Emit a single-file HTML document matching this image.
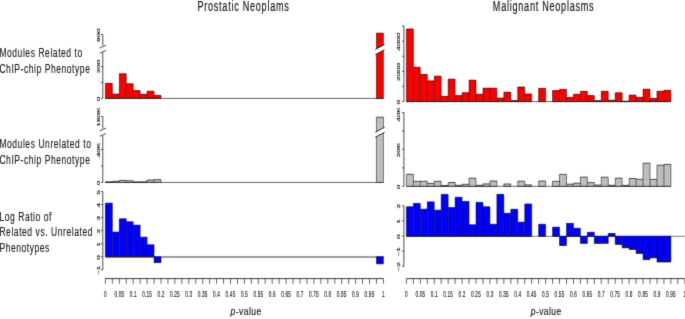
<!DOCTYPE html>
<html><head><meta charset="utf-8"><style>
html,body{margin:0;padding:0;background:#fff;}
body{width:685px;height:319px;overflow:hidden;position:relative;font-family:"Liberation Sans",sans-serif;}
svg{position:absolute;left:0;top:0;}
svg text{font-family:"Liberation Sans",sans-serif;}
</style></head><body>
<svg width="685" height="319" viewBox="0 0 685 319">
<defs><filter id="soft" x="0" y="0" width="1" height="1" color-interpolation-filters="sRGB"><feConvolveMatrix order="3" kernelMatrix="0.0112 0.0834 0.0112 0.0834 0.6194 0.0834 0.0112 0.0834 0.0112" edgeMode="duplicate" preserveAlpha="false"/></filter></defs>
<rect width="685" height="319" fill="#fff"/>
<g filter="url(#soft)">
<rect width="685" height="319" fill="#fff"/>
<g fill="#1a1a1a" font-size="14.7" stroke="#1a1a1a" stroke-width="0.2" letter-spacing="1.18">
<text transform="translate(243.5,10.8) scale(0.62,1)" text-anchor="middle">Prostatic Neoplams</text>
<text transform="translate(543.6,10.8) scale(0.62,1)" text-anchor="middle">Malignant Neoplasms</text>
</g>
<g fill="#1a1a1a" font-size="13.5" stroke="#1a1a1a" stroke-width="0.15" letter-spacing="0.9">
<text transform="translate(-0.6,57.1) scale(0.63,1)">Modules Related to</text>
<text transform="translate(-0.6,73.0) scale(0.63,1)">ChIP-chip Phenotype</text>
<text transform="translate(-0.6,147.5) scale(0.63,1)">Modules Unrelated to</text>
<text transform="translate(-0.6,163.8) scale(0.63,1)">ChIP-chip Phenotype</text>
<text transform="translate(-0.6,220.7) scale(0.63,1)">Log Ratio of</text>
<text transform="translate(-0.6,236.3) scale(0.63,1)">Related vs. Unrelated</text>
<text transform="translate(-0.6,251.7) scale(0.63,1)">Phenotypes</text>
</g>
<g fill="#1a1a1a" font-size="11.5" stroke="#1a1a1a" stroke-width="0.2" letter-spacing="0.6">
<text transform="translate(230.6,315.4) scale(0.74,1)"><tspan font-style="italic">p</tspan>-value</text>
<text transform="translate(530.7,315.4) scale(0.74,1)"><tspan font-style="italic">p</tspan>-value</text>
</g>
<line x1="105.40" y1="98.40" x2="383.40" y2="98.40" stroke="#555" stroke-width="0.9"/>
<rect x="105.40" y="83.40" width="6.95" height="15.00" fill="#fa0000"/>
<rect x="112.35" y="94.10" width="6.95" height="4.30" fill="#fa0000"/>
<rect x="119.30" y="73.80" width="6.95" height="24.60" fill="#fa0000"/>
<rect x="126.25" y="83.80" width="6.95" height="14.60" fill="#fa0000"/>
<rect x="133.20" y="90.60" width="6.95" height="7.80" fill="#fa0000"/>
<rect x="140.15" y="94.30" width="6.95" height="4.10" fill="#fa0000"/>
<rect x="147.10" y="91.20" width="6.95" height="7.20" fill="#fa0000"/>
<rect x="154.05" y="95.40" width="6.95" height="3.00" fill="#fa0000"/>
<rect x="376.45" y="33.20" width="6.95" height="65.20" fill="#fa0000"/>
<path d="M105.40 83.40H112.35M105.40 98.40H112.35M112.35 94.10H119.30M112.35 98.40H119.30M119.30 73.80H126.25M119.30 98.40H126.25M126.25 83.80H133.20M126.25 98.40H133.20M133.20 90.60H140.15M133.20 98.40H140.15M140.15 94.30H147.10M140.15 98.40H147.10M147.10 91.20H154.05M147.10 98.40H154.05M154.05 95.40H161.00M154.05 98.40H161.00M376.45 33.20H383.40M376.45 98.40H383.40" stroke="#000" stroke-width="0.65" fill="none"/>
<path d="M105.40 83.40V98.40M112.35 83.40V98.40M119.30 73.80V98.40M126.25 73.80V98.40M133.20 83.80V98.40M140.15 90.60V98.40M147.10 91.20V98.40M154.05 91.20V98.40M161.00 95.40V98.40M376.45 33.20V98.40M383.40 33.20V98.40" stroke="#000" stroke-width="0.5" fill="none"/>
<polygon points="375.25,49.40 384.60,44.40 384.60,49.70 375.25,54.70" fill="#fff"/>
<line x1="375.25" y1="49.40" x2="384.60" y2="44.40" stroke="#000" stroke-width="0.8"/>
<line x1="375.25" y1="54.70" x2="384.60" y2="49.70" stroke="#000" stroke-width="0.8"/>
<line x1="102.80" y1="34.40" x2="102.80" y2="45.60" stroke="#222" stroke-width="0.8"/>
<line x1="102.80" y1="52.00" x2="102.80" y2="98.40" stroke="#222" stroke-width="0.8"/>
<line x1="101.00" y1="34.40" x2="102.80" y2="34.40" stroke="#222" stroke-width="0.8"/>
<line x1="101.00" y1="66.60" x2="102.80" y2="66.60" stroke="#222" stroke-width="0.8"/>
<line x1="101.00" y1="82.50" x2="102.80" y2="82.50" stroke="#222" stroke-width="0.8"/>
<line x1="101.00" y1="98.40" x2="102.80" y2="98.40" stroke="#222" stroke-width="0.8"/>
<text transform="translate(98.70,35.20) scale(0.42,1) rotate(-90)" font-size="8.2" text-anchor="middle" dominant-baseline="central" fill="#1a1a1a" stroke="#1a1a1a" stroke-width="0.32">900</text>
<text transform="translate(98.70,66.50) scale(0.42,1) rotate(-90)" font-size="8.2" text-anchor="middle" dominant-baseline="central" fill="#1a1a1a" stroke="#1a1a1a" stroke-width="0.32">200</text>
<text transform="translate(98.70,99.00) scale(0.42,1) rotate(-90)" font-size="8.2" text-anchor="middle" dominant-baseline="central" fill="#1a1a1a" stroke="#1a1a1a" stroke-width="0.32">0</text>
<line x1="99.70" y1="48.00" x2="106.10" y2="45.20" stroke="#222" stroke-width="0.8"/>
<line x1="99.70" y1="53.20" x2="106.10" y2="50.40" stroke="#222" stroke-width="0.8"/>
<line x1="105.40" y1="182.40" x2="383.40" y2="182.40" stroke="#555" stroke-width="0.9"/>
<rect x="105.40" y="181.90" width="6.95" height="0.50" fill="#bebebe"/>
<rect x="112.35" y="181.30" width="6.95" height="1.10" fill="#bebebe"/>
<rect x="119.30" y="180.30" width="6.95" height="2.10" fill="#bebebe"/>
<rect x="126.25" y="180.80" width="6.95" height="1.60" fill="#bebebe"/>
<rect x="133.20" y="182.00" width="6.95" height="0.40" fill="#bebebe"/>
<rect x="140.15" y="181.90" width="6.95" height="0.50" fill="#bebebe"/>
<rect x="147.10" y="180.00" width="6.95" height="2.40" fill="#bebebe"/>
<rect x="154.05" y="179.60" width="6.95" height="2.80" fill="#bebebe"/>
<rect x="376.45" y="117.20" width="6.95" height="65.20" fill="#bebebe"/>
<path d="M105.40 181.90H112.35M105.40 182.40H112.35M112.35 181.30H119.30M112.35 182.40H119.30M119.30 180.30H126.25M119.30 182.40H126.25M126.25 180.80H133.20M126.25 182.40H133.20M133.20 182.00H140.15M133.20 182.40H140.15M140.15 181.90H147.10M140.15 182.40H147.10M147.10 180.00H154.05M147.10 182.40H154.05M154.05 179.60H161.00M154.05 182.40H161.00M376.45 117.20H383.40M376.45 182.40H383.40" stroke="#000" stroke-width="0.65" fill="none"/>
<path d="M105.40 181.90V182.40M112.35 181.30V182.40M119.30 180.30V182.40M126.25 180.30V182.40M133.20 180.80V182.40M140.15 181.90V182.40M147.10 180.00V182.40M154.05 179.60V182.40M161.00 179.60V182.40M376.45 117.20V182.40M383.40 117.20V182.40" stroke="#000" stroke-width="0.5" fill="none"/>
<polygon points="375.25,132.20 384.60,127.20 384.60,132.30 375.25,137.30" fill="#fff"/>
<line x1="375.25" y1="132.20" x2="384.60" y2="127.20" stroke="#000" stroke-width="0.8"/>
<line x1="375.25" y1="137.30" x2="384.60" y2="132.30" stroke="#000" stroke-width="0.8"/>
<line x1="102.80" y1="116.50" x2="102.80" y2="128.60" stroke="#222" stroke-width="0.8"/>
<line x1="102.80" y1="135.60" x2="102.80" y2="182.40" stroke="#222" stroke-width="0.8"/>
<line x1="101.00" y1="116.50" x2="102.80" y2="116.50" stroke="#222" stroke-width="0.8"/>
<line x1="101.00" y1="149.50" x2="102.80" y2="149.50" stroke="#222" stroke-width="0.8"/>
<line x1="101.00" y1="166.00" x2="102.80" y2="166.00" stroke="#222" stroke-width="0.8"/>
<line x1="101.00" y1="182.40" x2="102.80" y2="182.40" stroke="#222" stroke-width="0.8"/>
<text transform="translate(98.70,117.10) scale(0.42,1) rotate(-90)" font-size="8.2" text-anchor="middle" dominant-baseline="central" fill="#1a1a1a" stroke="#1a1a1a" stroke-width="0.32">180K</text>
<text transform="translate(98.70,150.10) scale(0.42,1) rotate(-90)" font-size="8.2" text-anchor="middle" dominant-baseline="central" fill="#1a1a1a" stroke="#1a1a1a" stroke-width="0.32">40K</text>
<text transform="translate(98.70,183.00) scale(0.42,1) rotate(-90)" font-size="8.2" text-anchor="middle" dominant-baseline="central" fill="#1a1a1a" stroke="#1a1a1a" stroke-width="0.32">0</text>
<line x1="99.70" y1="130.90" x2="106.10" y2="128.10" stroke="#222" stroke-width="0.8"/>
<line x1="99.70" y1="136.30" x2="106.10" y2="133.50" stroke="#222" stroke-width="0.8"/>
<line x1="105.40" y1="257.00" x2="383.40" y2="257.00" stroke="#3a3a3a" stroke-width="1.0"/>
<rect x="105.40" y="203.20" width="6.95" height="53.60" fill="#0000fa"/>
<rect x="112.35" y="232.10" width="6.95" height="24.70" fill="#0000fa"/>
<rect x="119.30" y="218.80" width="6.95" height="38.00" fill="#0000fa"/>
<rect x="126.25" y="221.80" width="6.95" height="35.00" fill="#0000fa"/>
<rect x="133.20" y="225.20" width="6.95" height="31.60" fill="#0000fa"/>
<rect x="140.15" y="237.20" width="6.95" height="19.60" fill="#0000fa"/>
<rect x="147.10" y="244.80" width="6.95" height="12.00" fill="#0000fa"/>
<rect x="154.05" y="256.80" width="6.95" height="5.80" fill="#0000fa"/>
<rect x="376.45" y="256.80" width="6.95" height="7.00" fill="#0000fa"/>
<path d="M105.40 203.20H112.35M105.40 256.80H112.35M112.35 232.10H119.30M112.35 256.80H119.30M119.30 218.80H126.25M119.30 256.80H126.25M126.25 221.80H133.20M126.25 256.80H133.20M133.20 225.20H140.15M133.20 256.80H140.15M140.15 237.20H147.10M140.15 256.80H147.10M147.10 244.80H154.05M147.10 256.80H154.05M154.05 256.80H161.00M154.05 262.60H161.00M376.45 256.80H383.40M376.45 263.80H383.40" stroke="#000" stroke-width="0.65" fill="none"/>
<path d="M105.40 203.20V256.80M112.35 203.20V256.80M119.30 218.80V256.80M126.25 218.80V256.80M133.20 221.80V256.80M140.15 225.20V256.80M147.10 237.20V256.80M154.05 244.80V262.60M161.00 256.80V262.60M376.45 256.80V263.80M383.40 256.80V263.80" stroke="#000" stroke-width="0.5" fill="none"/>
<line x1="102.80" y1="191.55" x2="102.80" y2="269.85" stroke="#222" stroke-width="0.8"/>
<line x1="101.00" y1="191.55" x2="102.80" y2="191.55" stroke="#222" stroke-width="0.8"/>
<line x1="101.00" y1="204.60" x2="102.80" y2="204.60" stroke="#222" stroke-width="0.8"/>
<line x1="101.00" y1="217.65" x2="102.80" y2="217.65" stroke="#222" stroke-width="0.8"/>
<line x1="101.00" y1="230.70" x2="102.80" y2="230.70" stroke="#222" stroke-width="0.8"/>
<line x1="101.00" y1="243.75" x2="102.80" y2="243.75" stroke="#222" stroke-width="0.8"/>
<line x1="101.00" y1="256.80" x2="102.80" y2="256.80" stroke="#222" stroke-width="0.8"/>
<line x1="101.00" y1="269.85" x2="102.80" y2="269.85" stroke="#222" stroke-width="0.8"/>
<text transform="translate(98.70,192.15) scale(0.42,1) rotate(-90)" font-size="8.2" text-anchor="middle" dominant-baseline="central" fill="#1a1a1a" stroke="#1a1a1a" stroke-width="0.32">5</text>
<text transform="translate(98.70,205.20) scale(0.42,1) rotate(-90)" font-size="8.2" text-anchor="middle" dominant-baseline="central" fill="#1a1a1a" stroke="#1a1a1a" stroke-width="0.32">4</text>
<text transform="translate(98.70,218.25) scale(0.42,1) rotate(-90)" font-size="8.2" text-anchor="middle" dominant-baseline="central" fill="#1a1a1a" stroke="#1a1a1a" stroke-width="0.32">3</text>
<text transform="translate(98.70,231.30) scale(0.42,1) rotate(-90)" font-size="8.2" text-anchor="middle" dominant-baseline="central" fill="#1a1a1a" stroke="#1a1a1a" stroke-width="0.32">2</text>
<text transform="translate(98.70,244.35) scale(0.42,1) rotate(-90)" font-size="8.2" text-anchor="middle" dominant-baseline="central" fill="#1a1a1a" stroke="#1a1a1a" stroke-width="0.32">1</text>
<text transform="translate(98.70,257.40) scale(0.42,1) rotate(-90)" font-size="8.2" text-anchor="middle" dominant-baseline="central" fill="#1a1a1a" stroke="#1a1a1a" stroke-width="0.32">0</text>
<text transform="translate(98.70,270.45) scale(0.42,1) rotate(-90)" font-size="8.2" text-anchor="middle" dominant-baseline="central" fill="#1a1a1a" stroke="#1a1a1a" stroke-width="0.32">−1</text>
<line x1="406.40" y1="101.60" x2="670.88" y2="101.60" stroke="#555" stroke-width="0.9"/>
<rect x="406.40" y="29.00" width="6.96" height="72.60" fill="#fa0000"/>
<rect x="413.36" y="67.30" width="6.96" height="34.30" fill="#fa0000"/>
<rect x="420.32" y="74.40" width="6.96" height="27.20" fill="#fa0000"/>
<rect x="427.28" y="80.90" width="6.96" height="20.70" fill="#fa0000"/>
<rect x="434.24" y="76.20" width="6.96" height="25.40" fill="#fa0000"/>
<rect x="441.20" y="96.40" width="6.96" height="5.20" fill="#fa0000"/>
<rect x="448.16" y="79.20" width="6.96" height="22.40" fill="#fa0000"/>
<rect x="455.12" y="95.60" width="6.96" height="6.00" fill="#fa0000"/>
<rect x="462.08" y="92.70" width="6.96" height="8.90" fill="#fa0000"/>
<rect x="469.04" y="80.20" width="6.96" height="21.40" fill="#fa0000"/>
<rect x="476.00" y="94.30" width="6.96" height="7.30" fill="#fa0000"/>
<rect x="482.96" y="88.20" width="6.96" height="13.40" fill="#fa0000"/>
<rect x="489.92" y="88.20" width="6.96" height="13.40" fill="#fa0000"/>
<rect x="496.88" y="98.10" width="6.96" height="3.50" fill="#fa0000"/>
<rect x="503.84" y="92.20" width="6.96" height="9.40" fill="#fa0000"/>
<rect x="510.80" y="100.50" width="6.96" height="1.10" fill="#fa0000"/>
<rect x="517.76" y="87.00" width="6.96" height="14.60" fill="#fa0000"/>
<rect x="524.72" y="94.00" width="6.96" height="7.60" fill="#fa0000"/>
<rect x="538.64" y="88.40" width="6.96" height="13.20" fill="#fa0000"/>
<rect x="552.56" y="90.60" width="6.96" height="11.00" fill="#fa0000"/>
<rect x="559.52" y="89.40" width="6.96" height="12.20" fill="#fa0000"/>
<rect x="566.48" y="97.40" width="6.96" height="4.20" fill="#fa0000"/>
<rect x="573.44" y="94.30" width="6.96" height="7.30" fill="#fa0000"/>
<rect x="580.40" y="91.30" width="6.96" height="10.30" fill="#fa0000"/>
<rect x="587.36" y="95.60" width="6.96" height="6.00" fill="#fa0000"/>
<rect x="594.32" y="100.60" width="6.96" height="1.00" fill="#fa0000"/>
<rect x="601.28" y="91.30" width="6.96" height="10.30" fill="#fa0000"/>
<rect x="608.24" y="100.20" width="6.96" height="1.40" fill="#fa0000"/>
<rect x="615.20" y="92.80" width="6.96" height="8.80" fill="#fa0000"/>
<rect x="622.16" y="101.20" width="6.96" height="0.40" fill="#fa0000"/>
<rect x="629.12" y="95.10" width="6.96" height="6.50" fill="#fa0000"/>
<rect x="636.08" y="97.40" width="6.96" height="4.20" fill="#fa0000"/>
<rect x="643.04" y="89.20" width="6.96" height="12.40" fill="#fa0000"/>
<rect x="650.00" y="98.40" width="6.96" height="3.20" fill="#fa0000"/>
<rect x="656.96" y="91.30" width="6.96" height="10.30" fill="#fa0000"/>
<rect x="663.92" y="90.30" width="6.96" height="11.30" fill="#fa0000"/>
<path d="M406.40 29.00H413.36M406.40 101.60H413.36M413.36 67.30H420.32M413.36 101.60H420.32M420.32 74.40H427.28M420.32 101.60H427.28M427.28 80.90H434.24M427.28 101.60H434.24M434.24 76.20H441.20M434.24 101.60H441.20M441.20 96.40H448.16M441.20 101.60H448.16M448.16 79.20H455.12M448.16 101.60H455.12M455.12 95.60H462.08M455.12 101.60H462.08M462.08 92.70H469.04M462.08 101.60H469.04M469.04 80.20H476.00M469.04 101.60H476.00M476.00 94.30H482.96M476.00 101.60H482.96M482.96 88.20H489.92M482.96 101.60H489.92M489.92 88.20H496.88M489.92 101.60H496.88M496.88 98.10H503.84M496.88 101.60H503.84M503.84 92.20H510.80M503.84 101.60H510.80M510.80 100.50H517.76M510.80 101.60H517.76M517.76 87.00H524.72M517.76 101.60H524.72M524.72 94.00H531.68M524.72 101.60H531.68M538.64 88.40H545.60M538.64 101.60H545.60M552.56 90.60H559.52M552.56 101.60H559.52M559.52 89.40H566.48M559.52 101.60H566.48M566.48 97.40H573.44M566.48 101.60H573.44M573.44 94.30H580.40M573.44 101.60H580.40M580.40 91.30H587.36M580.40 101.60H587.36M587.36 95.60H594.32M587.36 101.60H594.32M594.32 100.60H601.28M594.32 101.60H601.28M601.28 91.30H608.24M601.28 101.60H608.24M608.24 100.20H615.20M608.24 101.60H615.20M615.20 92.80H622.16M615.20 101.60H622.16M622.16 101.20H629.12M622.16 101.60H629.12M629.12 95.10H636.08M629.12 101.60H636.08M636.08 97.40H643.04M636.08 101.60H643.04M643.04 89.20H650.00M643.04 101.60H650.00M650.00 98.40H656.96M650.00 101.60H656.96M656.96 91.30H663.92M656.96 101.60H663.92M663.92 90.30H670.88M663.92 101.60H670.88" stroke="#000" stroke-width="0.65" fill="none"/>
<path d="M406.40 29.00V101.60M413.36 29.00V101.60M420.32 67.30V101.60M427.28 74.40V101.60M434.24 76.20V101.60M441.20 76.20V101.60M448.16 79.20V101.60M455.12 79.20V101.60M462.08 92.70V101.60M469.04 80.20V101.60M476.00 80.20V101.60M482.96 88.20V101.60M489.92 88.20V101.60M496.88 88.20V101.60M503.84 92.20V101.60M510.80 92.20V101.60M517.76 87.00V101.60M524.72 87.00V101.60M531.68 94.00V101.60M538.64 88.40V101.60M545.60 88.40V101.60M552.56 90.60V101.60M559.52 89.40V101.60M566.48 89.40V101.60M573.44 94.30V101.60M580.40 91.30V101.60M587.36 91.30V101.60M594.32 95.60V101.60M601.28 91.30V101.60M608.24 91.30V101.60M615.20 92.80V101.60M622.16 92.80V101.60M629.12 95.10V101.60M636.08 95.10V101.60M643.04 89.20V101.60M650.00 89.20V101.60M656.96 91.30V101.60M663.92 90.30V101.60M670.88 90.30V101.60" stroke="#000" stroke-width="0.5" fill="none"/>
<line x1="403.90" y1="26.00" x2="403.90" y2="101.60" stroke="#222" stroke-width="0.8"/>
<line x1="402.10" y1="101.60" x2="403.90" y2="101.60" stroke="#222" stroke-width="0.8"/>
<line x1="402.10" y1="86.48" x2="403.90" y2="86.48" stroke="#222" stroke-width="0.8"/>
<line x1="402.10" y1="71.36" x2="403.90" y2="71.36" stroke="#222" stroke-width="0.8"/>
<line x1="402.10" y1="56.24" x2="403.90" y2="56.24" stroke="#222" stroke-width="0.8"/>
<line x1="402.10" y1="41.12" x2="403.90" y2="41.12" stroke="#222" stroke-width="0.8"/>
<line x1="402.10" y1="26.00" x2="403.90" y2="26.00" stroke="#222" stroke-width="0.8"/>
<text transform="translate(398.90,102.20) scale(0.42,1) rotate(-90)" font-size="8.2" text-anchor="middle" dominant-baseline="central" fill="#1a1a1a" stroke="#1a1a1a" stroke-width="0.32">0</text>
<text transform="translate(398.90,71.96) scale(0.42,1) rotate(-90)" font-size="8.2" text-anchor="middle" dominant-baseline="central" fill="#1a1a1a" stroke="#1a1a1a" stroke-width="0.32">2000</text>
<text transform="translate(398.90,41.72) scale(0.42,1) rotate(-90)" font-size="8.2" text-anchor="middle" dominant-baseline="central" fill="#1a1a1a" stroke="#1a1a1a" stroke-width="0.32">4000</text>
<line x1="406.40" y1="186.30" x2="670.88" y2="186.30" stroke="#555" stroke-width="0.9"/>
<rect x="406.40" y="174.30" width="6.96" height="12.00" fill="#bebebe"/>
<rect x="413.36" y="181.30" width="6.96" height="5.00" fill="#bebebe"/>
<rect x="420.32" y="181.30" width="6.96" height="5.00" fill="#bebebe"/>
<rect x="427.28" y="183.40" width="6.96" height="2.90" fill="#bebebe"/>
<rect x="434.24" y="181.30" width="6.96" height="5.00" fill="#bebebe"/>
<rect x="441.20" y="185.60" width="6.96" height="0.70" fill="#bebebe"/>
<rect x="448.16" y="182.50" width="6.96" height="3.80" fill="#bebebe"/>
<rect x="455.12" y="185.30" width="6.96" height="1.00" fill="#bebebe"/>
<rect x="462.08" y="184.30" width="6.96" height="2.00" fill="#bebebe"/>
<rect x="469.04" y="178.20" width="6.96" height="8.10" fill="#bebebe"/>
<rect x="476.00" y="185.30" width="6.96" height="1.00" fill="#bebebe"/>
<rect x="482.96" y="183.90" width="6.96" height="2.40" fill="#bebebe"/>
<rect x="489.92" y="181.00" width="6.96" height="5.30" fill="#bebebe"/>
<rect x="503.84" y="184.00" width="6.96" height="2.30" fill="#bebebe"/>
<rect x="517.76" y="181.20" width="6.96" height="5.10" fill="#bebebe"/>
<rect x="524.72" y="184.90" width="6.96" height="1.40" fill="#bebebe"/>
<rect x="538.64" y="181.00" width="6.96" height="5.30" fill="#bebebe"/>
<rect x="552.56" y="181.30" width="6.96" height="5.00" fill="#bebebe"/>
<rect x="559.52" y="174.40" width="6.96" height="11.90" fill="#bebebe"/>
<rect x="566.48" y="184.20" width="6.96" height="2.10" fill="#bebebe"/>
<rect x="573.44" y="183.20" width="6.96" height="3.10" fill="#bebebe"/>
<rect x="580.40" y="177.10" width="6.96" height="9.20" fill="#bebebe"/>
<rect x="587.36" y="182.60" width="6.96" height="3.70" fill="#bebebe"/>
<rect x="594.32" y="185.00" width="6.96" height="1.30" fill="#bebebe"/>
<rect x="601.28" y="177.20" width="6.96" height="9.10" fill="#bebebe"/>
<rect x="608.24" y="185.30" width="6.96" height="1.00" fill="#bebebe"/>
<rect x="615.20" y="178.20" width="6.96" height="8.10" fill="#bebebe"/>
<rect x="622.16" y="185.40" width="6.96" height="0.90" fill="#bebebe"/>
<rect x="629.12" y="178.50" width="6.96" height="7.80" fill="#bebebe"/>
<rect x="636.08" y="179.30" width="6.96" height="7.00" fill="#bebebe"/>
<rect x="643.04" y="163.20" width="6.96" height="23.10" fill="#bebebe"/>
<rect x="650.00" y="179.40" width="6.96" height="6.90" fill="#bebebe"/>
<rect x="656.96" y="165.20" width="6.96" height="21.10" fill="#bebebe"/>
<rect x="663.92" y="164.40" width="6.96" height="21.90" fill="#bebebe"/>
<path d="M406.40 174.30H413.36M406.40 186.30H413.36M413.36 181.30H420.32M413.36 186.30H420.32M420.32 181.30H427.28M420.32 186.30H427.28M427.28 183.40H434.24M427.28 186.30H434.24M434.24 181.30H441.20M434.24 186.30H441.20M441.20 185.60H448.16M441.20 186.30H448.16M448.16 182.50H455.12M448.16 186.30H455.12M455.12 185.30H462.08M455.12 186.30H462.08M462.08 184.30H469.04M462.08 186.30H469.04M469.04 178.20H476.00M469.04 186.30H476.00M476.00 185.30H482.96M476.00 186.30H482.96M482.96 183.90H489.92M482.96 186.30H489.92M489.92 181.00H496.88M489.92 186.30H496.88M503.84 184.00H510.80M503.84 186.30H510.80M517.76 181.20H524.72M517.76 186.30H524.72M524.72 184.90H531.68M524.72 186.30H531.68M538.64 181.00H545.60M538.64 186.30H545.60M552.56 181.30H559.52M552.56 186.30H559.52M559.52 174.40H566.48M559.52 186.30H566.48M566.48 184.20H573.44M566.48 186.30H573.44M573.44 183.20H580.40M573.44 186.30H580.40M580.40 177.10H587.36M580.40 186.30H587.36M587.36 182.60H594.32M587.36 186.30H594.32M594.32 185.00H601.28M594.32 186.30H601.28M601.28 177.20H608.24M601.28 186.30H608.24M608.24 185.30H615.20M608.24 186.30H615.20M615.20 178.20H622.16M615.20 186.30H622.16M622.16 185.40H629.12M622.16 186.30H629.12M629.12 178.50H636.08M629.12 186.30H636.08M636.08 179.30H643.04M636.08 186.30H643.04M643.04 163.20H650.00M643.04 186.30H650.00M650.00 179.40H656.96M650.00 186.30H656.96M656.96 165.20H663.92M656.96 186.30H663.92M663.92 164.40H670.88M663.92 186.30H670.88" stroke="#000" stroke-width="0.65" fill="none"/>
<path d="M406.40 174.30V186.30M413.36 174.30V186.30M420.32 181.30V186.30M427.28 181.30V186.30M434.24 181.30V186.30M441.20 181.30V186.30M448.16 182.50V186.30M455.12 182.50V186.30M462.08 184.30V186.30M469.04 178.20V186.30M476.00 178.20V186.30M482.96 183.90V186.30M489.92 181.00V186.30M496.88 181.00V186.30M503.84 184.00V186.30M510.80 184.00V186.30M517.76 181.20V186.30M524.72 181.20V186.30M531.68 184.90V186.30M538.64 181.00V186.30M545.60 181.00V186.30M552.56 181.30V186.30M559.52 174.40V186.30M566.48 174.40V186.30M573.44 183.20V186.30M580.40 177.10V186.30M587.36 177.10V186.30M594.32 182.60V186.30M601.28 177.20V186.30M608.24 177.20V186.30M615.20 178.20V186.30M622.16 178.20V186.30M629.12 178.50V186.30M636.08 178.50V186.30M643.04 163.20V186.30M650.00 163.20V186.30M656.96 165.20V186.30M663.92 164.40V186.30M670.88 164.40V186.30" stroke="#000" stroke-width="0.5" fill="none"/>
<line x1="403.90" y1="112.50" x2="403.90" y2="186.30" stroke="#222" stroke-width="0.8"/>
<line x1="402.10" y1="186.30" x2="403.90" y2="186.30" stroke="#222" stroke-width="0.8"/>
<line x1="402.10" y1="167.85" x2="403.90" y2="167.85" stroke="#222" stroke-width="0.8"/>
<line x1="402.10" y1="149.40" x2="403.90" y2="149.40" stroke="#222" stroke-width="0.8"/>
<line x1="402.10" y1="130.95" x2="403.90" y2="130.95" stroke="#222" stroke-width="0.8"/>
<line x1="402.10" y1="112.50" x2="403.90" y2="112.50" stroke="#222" stroke-width="0.8"/>
<text transform="translate(398.90,186.90) scale(0.42,1) rotate(-90)" font-size="8.2" text-anchor="middle" dominant-baseline="central" fill="#1a1a1a" stroke="#1a1a1a" stroke-width="0.32">0</text>
<text transform="translate(398.90,150.00) scale(0.42,1) rotate(-90)" font-size="8.2" text-anchor="middle" dominant-baseline="central" fill="#1a1a1a" stroke="#1a1a1a" stroke-width="0.32">20K</text>
<text transform="translate(398.90,114.50) scale(0.42,1) rotate(-90)" font-size="8.2" text-anchor="middle" dominant-baseline="central" fill="#1a1a1a" stroke="#1a1a1a" stroke-width="0.32">40K</text>
<line x1="406.40" y1="236.30" x2="685.00" y2="236.30" stroke="#777" stroke-width="1.0"/>
<rect x="406.40" y="206.80" width="6.96" height="29.50" fill="#0000fa"/>
<rect x="413.36" y="203.40" width="6.96" height="32.90" fill="#0000fa"/>
<rect x="420.32" y="209.20" width="6.96" height="27.10" fill="#0000fa"/>
<rect x="427.28" y="201.90" width="6.96" height="34.40" fill="#0000fa"/>
<rect x="434.24" y="210.20" width="6.96" height="26.10" fill="#0000fa"/>
<rect x="441.20" y="194.40" width="6.96" height="41.90" fill="#0000fa"/>
<rect x="448.16" y="207.60" width="6.96" height="28.70" fill="#0000fa"/>
<rect x="455.12" y="197.30" width="6.96" height="39.00" fill="#0000fa"/>
<rect x="462.08" y="201.50" width="6.96" height="34.80" fill="#0000fa"/>
<rect x="469.04" y="224.80" width="6.96" height="11.50" fill="#0000fa"/>
<rect x="476.00" y="202.40" width="6.96" height="33.90" fill="#0000fa"/>
<rect x="482.96" y="206.80" width="6.96" height="29.50" fill="#0000fa"/>
<rect x="489.92" y="224.30" width="6.96" height="12.00" fill="#0000fa"/>
<rect x="496.88" y="194.40" width="6.96" height="41.90" fill="#0000fa"/>
<rect x="503.84" y="213.30" width="6.96" height="23.00" fill="#0000fa"/>
<rect x="510.80" y="209.30" width="6.96" height="27.00" fill="#0000fa"/>
<rect x="517.76" y="222.20" width="6.96" height="14.10" fill="#0000fa"/>
<rect x="524.72" y="204.00" width="6.96" height="32.30" fill="#0000fa"/>
<rect x="538.64" y="224.30" width="6.96" height="12.00" fill="#0000fa"/>
<rect x="552.56" y="227.20" width="6.96" height="9.10" fill="#0000fa"/>
<rect x="559.52" y="236.30" width="6.96" height="9.20" fill="#0000fa"/>
<rect x="566.48" y="223.40" width="6.96" height="12.90" fill="#0000fa"/>
<rect x="573.44" y="228.30" width="6.96" height="8.00" fill="#0000fa"/>
<rect x="580.40" y="236.30" width="6.96" height="7.10" fill="#0000fa"/>
<rect x="587.36" y="232.30" width="6.96" height="4.00" fill="#0000fa"/>
<rect x="594.32" y="236.30" width="6.96" height="7.10" fill="#0000fa"/>
<rect x="601.28" y="236.30" width="6.96" height="7.00" fill="#0000fa"/>
<rect x="608.24" y="233.50" width="6.96" height="2.80" fill="#0000fa"/>
<rect x="615.20" y="236.30" width="6.96" height="8.10" fill="#0000fa"/>
<rect x="622.16" y="236.30" width="6.96" height="11.50" fill="#0000fa"/>
<rect x="629.12" y="236.30" width="6.96" height="13.10" fill="#0000fa"/>
<rect x="636.08" y="236.30" width="6.96" height="17.10" fill="#0000fa"/>
<rect x="643.04" y="236.30" width="6.96" height="23.30" fill="#0000fa"/>
<rect x="650.00" y="236.30" width="6.96" height="21.50" fill="#0000fa"/>
<rect x="656.96" y="236.30" width="6.96" height="25.70" fill="#0000fa"/>
<rect x="663.92" y="236.30" width="6.96" height="25.70" fill="#0000fa"/>
<path d="M406.40 206.80H413.36M406.40 236.30H413.36M413.36 203.40H420.32M413.36 236.30H420.32M420.32 209.20H427.28M420.32 236.30H427.28M427.28 201.90H434.24M427.28 236.30H434.24M434.24 210.20H441.20M434.24 236.30H441.20M441.20 194.40H448.16M441.20 236.30H448.16M448.16 207.60H455.12M448.16 236.30H455.12M455.12 197.30H462.08M455.12 236.30H462.08M462.08 201.50H469.04M462.08 236.30H469.04M469.04 224.80H476.00M469.04 236.30H476.00M476.00 202.40H482.96M476.00 236.30H482.96M482.96 206.80H489.92M482.96 236.30H489.92M489.92 224.30H496.88M489.92 236.30H496.88M496.88 194.40H503.84M496.88 236.30H503.84M503.84 213.30H510.80M503.84 236.30H510.80M510.80 209.30H517.76M510.80 236.30H517.76M517.76 222.20H524.72M517.76 236.30H524.72M524.72 204.00H531.68M524.72 236.30H531.68M538.64 224.30H545.60M538.64 236.30H545.60M552.56 227.20H559.52M552.56 236.30H559.52M559.52 236.30H566.48M559.52 245.50H566.48M566.48 223.40H573.44M566.48 236.30H573.44M573.44 228.30H580.40M573.44 236.30H580.40M580.40 236.30H587.36M580.40 243.40H587.36M587.36 232.30H594.32M587.36 236.30H594.32M594.32 236.30H601.28M594.32 243.40H601.28M601.28 236.30H608.24M601.28 243.30H608.24M608.24 233.50H615.20M608.24 236.30H615.20M615.20 236.30H622.16M615.20 244.40H622.16M622.16 236.30H629.12M622.16 247.80H629.12M629.12 236.30H636.08M629.12 249.40H636.08M636.08 236.30H643.04M636.08 253.40H643.04M643.04 236.30H650.00M643.04 259.60H650.00M650.00 236.30H656.96M650.00 257.80H656.96M656.96 236.30H663.92M656.96 262.00H663.92M663.92 236.30H670.88M663.92 262.00H670.88" stroke="#000" stroke-width="0.65" fill="none"/>
<path d="M406.40 206.80V236.30M413.36 203.40V236.30M420.32 203.40V236.30M427.28 201.90V236.30M434.24 201.90V236.30M441.20 194.40V236.30M448.16 194.40V236.30M455.12 197.30V236.30M462.08 197.30V236.30M469.04 201.50V236.30M476.00 202.40V236.30M482.96 202.40V236.30M489.92 206.80V236.30M496.88 194.40V236.30M503.84 194.40V236.30M510.80 209.30V236.30M517.76 209.30V236.30M524.72 204.00V236.30M531.68 204.00V236.30M538.64 224.30V236.30M545.60 224.30V236.30M552.56 227.20V236.30M559.52 227.20V245.50M566.48 223.40V245.50M573.44 223.40V236.30M580.40 228.30V243.40M587.36 232.30V243.40M594.32 232.30V243.40M601.28 236.30V243.40M608.24 233.50V243.30M615.20 233.50V244.40M622.16 236.30V247.80M629.12 236.30V249.40M636.08 236.30V253.40M643.04 236.30V259.60M650.00 236.30V259.60M656.96 236.30V262.00M663.92 236.30V262.00M670.88 236.30V262.00" stroke="#000" stroke-width="0.5" fill="none"/>
<line x1="403.90" y1="205.70" x2="403.90" y2="266.30" stroke="#222" stroke-width="0.8"/>
<line x1="402.10" y1="205.70" x2="403.90" y2="205.70" stroke="#222" stroke-width="0.8"/>
<line x1="402.10" y1="220.85" x2="403.90" y2="220.85" stroke="#222" stroke-width="0.8"/>
<line x1="402.10" y1="236.00" x2="403.90" y2="236.00" stroke="#222" stroke-width="0.8"/>
<line x1="402.10" y1="251.15" x2="403.90" y2="251.15" stroke="#222" stroke-width="0.8"/>
<line x1="402.10" y1="266.30" x2="403.90" y2="266.30" stroke="#222" stroke-width="0.8"/>
<text transform="translate(398.90,206.30) scale(0.42,1) rotate(-90)" font-size="8.2" text-anchor="middle" dominant-baseline="central" fill="#1a1a1a" stroke="#1a1a1a" stroke-width="0.32">2</text>
<text transform="translate(398.90,221.45) scale(0.42,1) rotate(-90)" font-size="8.2" text-anchor="middle" dominant-baseline="central" fill="#1a1a1a" stroke="#1a1a1a" stroke-width="0.32">1</text>
<text transform="translate(398.90,236.60) scale(0.42,1) rotate(-90)" font-size="8.2" text-anchor="middle" dominant-baseline="central" fill="#1a1a1a" stroke="#1a1a1a" stroke-width="0.32">0</text>
<text transform="translate(398.90,251.75) scale(0.42,1) rotate(-90)" font-size="8.2" text-anchor="middle" dominant-baseline="central" fill="#1a1a1a" stroke="#1a1a1a" stroke-width="0.32">−1</text>
<text transform="translate(398.90,266.90) scale(0.42,1) rotate(-90)" font-size="8.2" text-anchor="middle" dominant-baseline="central" fill="#1a1a1a" stroke="#1a1a1a" stroke-width="0.32">−2</text>
<line x1="105.40" y1="278.60" x2="383.40" y2="278.60" stroke="#222" stroke-width="0.9"/>
<path d="M105.40 278.60V283.80M112.35 278.60V283.80M119.30 278.60V283.80M126.25 278.60V283.80M133.20 278.60V283.80M140.15 278.60V283.80M147.10 278.60V283.80M154.05 278.60V283.80M161.00 278.60V283.80M167.95 278.60V283.80M174.90 278.60V283.80M181.85 278.60V283.80M188.80 278.60V283.80M195.75 278.60V283.80M202.70 278.60V283.80M209.65 278.60V283.80M216.60 278.60V283.80M223.55 278.60V283.80M230.50 278.60V283.80M237.45 278.60V283.80M244.40 278.60V283.80M251.35 278.60V283.80M258.30 278.60V283.80M265.25 278.60V283.80M272.20 278.60V283.80M279.15 278.60V283.80M286.10 278.60V283.80M293.05 278.60V283.80M300.00 278.60V283.80M306.95 278.60V283.80M313.90 278.60V283.80M320.85 278.60V283.80M327.80 278.60V283.80M334.75 278.60V283.80M341.70 278.60V283.80M348.65 278.60V283.80M355.60 278.60V283.80M362.55 278.60V283.80M369.50 278.60V283.80M376.45 278.60V283.80M383.40 278.60V283.80" stroke="#222" stroke-width="0.7" fill="none"/>
<text transform="translate(105.40,296.6) scale(0.51,1)" font-size="9.2" text-anchor="middle" fill="#1a1a1a" stroke="#1a1a1a" stroke-width="0.15" letter-spacing="0.35">0</text>
<text transform="translate(119.30,296.6) scale(0.51,1)" font-size="9.2" text-anchor="middle" fill="#1a1a1a" stroke="#1a1a1a" stroke-width="0.15" letter-spacing="0.35">0.05</text>
<text transform="translate(133.20,296.6) scale(0.51,1)" font-size="9.2" text-anchor="middle" fill="#1a1a1a" stroke="#1a1a1a" stroke-width="0.15" letter-spacing="0.35">0.1</text>
<text transform="translate(147.10,296.6) scale(0.51,1)" font-size="9.2" text-anchor="middle" fill="#1a1a1a" stroke="#1a1a1a" stroke-width="0.15" letter-spacing="0.35">0.15</text>
<text transform="translate(161.00,296.6) scale(0.51,1)" font-size="9.2" text-anchor="middle" fill="#1a1a1a" stroke="#1a1a1a" stroke-width="0.15" letter-spacing="0.35">0.2</text>
<text transform="translate(174.90,296.6) scale(0.51,1)" font-size="9.2" text-anchor="middle" fill="#1a1a1a" stroke="#1a1a1a" stroke-width="0.15" letter-spacing="0.35">0.25</text>
<text transform="translate(188.80,296.6) scale(0.51,1)" font-size="9.2" text-anchor="middle" fill="#1a1a1a" stroke="#1a1a1a" stroke-width="0.15" letter-spacing="0.35">0.3</text>
<text transform="translate(202.70,296.6) scale(0.51,1)" font-size="9.2" text-anchor="middle" fill="#1a1a1a" stroke="#1a1a1a" stroke-width="0.15" letter-spacing="0.35">0.35</text>
<text transform="translate(216.60,296.6) scale(0.51,1)" font-size="9.2" text-anchor="middle" fill="#1a1a1a" stroke="#1a1a1a" stroke-width="0.15" letter-spacing="0.35">0.4</text>
<text transform="translate(230.50,296.6) scale(0.51,1)" font-size="9.2" text-anchor="middle" fill="#1a1a1a" stroke="#1a1a1a" stroke-width="0.15" letter-spacing="0.35">0.45</text>
<text transform="translate(244.40,296.6) scale(0.51,1)" font-size="9.2" text-anchor="middle" fill="#1a1a1a" stroke="#1a1a1a" stroke-width="0.15" letter-spacing="0.35">0.5</text>
<text transform="translate(258.30,296.6) scale(0.51,1)" font-size="9.2" text-anchor="middle" fill="#1a1a1a" stroke="#1a1a1a" stroke-width="0.15" letter-spacing="0.35">0.55</text>
<text transform="translate(272.20,296.6) scale(0.51,1)" font-size="9.2" text-anchor="middle" fill="#1a1a1a" stroke="#1a1a1a" stroke-width="0.15" letter-spacing="0.35">0.6</text>
<text transform="translate(286.10,296.6) scale(0.51,1)" font-size="9.2" text-anchor="middle" fill="#1a1a1a" stroke="#1a1a1a" stroke-width="0.15" letter-spacing="0.35">0.65</text>
<text transform="translate(300.00,296.6) scale(0.51,1)" font-size="9.2" text-anchor="middle" fill="#1a1a1a" stroke="#1a1a1a" stroke-width="0.15" letter-spacing="0.35">0.7</text>
<text transform="translate(313.90,296.6) scale(0.51,1)" font-size="9.2" text-anchor="middle" fill="#1a1a1a" stroke="#1a1a1a" stroke-width="0.15" letter-spacing="0.35">0.75</text>
<text transform="translate(327.80,296.6) scale(0.51,1)" font-size="9.2" text-anchor="middle" fill="#1a1a1a" stroke="#1a1a1a" stroke-width="0.15" letter-spacing="0.35">0.8</text>
<text transform="translate(341.70,296.6) scale(0.51,1)" font-size="9.2" text-anchor="middle" fill="#1a1a1a" stroke="#1a1a1a" stroke-width="0.15" letter-spacing="0.35">0.85</text>
<text transform="translate(355.60,296.6) scale(0.51,1)" font-size="9.2" text-anchor="middle" fill="#1a1a1a" stroke="#1a1a1a" stroke-width="0.15" letter-spacing="0.35">0.9</text>
<text transform="translate(369.50,296.6) scale(0.51,1)" font-size="9.2" text-anchor="middle" fill="#1a1a1a" stroke="#1a1a1a" stroke-width="0.15" letter-spacing="0.35">0.95</text>
<text transform="translate(383.40,296.6) scale(0.51,1)" font-size="9.2" text-anchor="middle" fill="#1a1a1a" stroke="#1a1a1a" stroke-width="0.15" letter-spacing="0.35">1</text>
<line x1="406.40" y1="278.60" x2="684.80" y2="278.60" stroke="#222" stroke-width="0.9"/>
<path d="M406.40 278.60V283.80M413.36 278.60V283.80M420.32 278.60V283.80M427.28 278.60V283.80M434.24 278.60V283.80M441.20 278.60V283.80M448.16 278.60V283.80M455.12 278.60V283.80M462.08 278.60V283.80M469.04 278.60V283.80M476.00 278.60V283.80M482.96 278.60V283.80M489.92 278.60V283.80M496.88 278.60V283.80M503.84 278.60V283.80M510.80 278.60V283.80M517.76 278.60V283.80M524.72 278.60V283.80M531.68 278.60V283.80M538.64 278.60V283.80M545.60 278.60V283.80M552.56 278.60V283.80M559.52 278.60V283.80M566.48 278.60V283.80M573.44 278.60V283.80M580.40 278.60V283.80M587.36 278.60V283.80M594.32 278.60V283.80M601.28 278.60V283.80M608.24 278.60V283.80M615.20 278.60V283.80M622.16 278.60V283.80M629.12 278.60V283.80M636.08 278.60V283.80M643.04 278.60V283.80M650.00 278.60V283.80M656.96 278.60V283.80M663.92 278.60V283.80M670.88 278.60V283.80M677.84 278.60V283.80M684.80 278.60V283.80" stroke="#222" stroke-width="0.7" fill="none"/>
<text transform="translate(406.40,296.6) scale(0.51,1)" font-size="9.2" text-anchor="middle" fill="#1a1a1a" stroke="#1a1a1a" stroke-width="0.15" letter-spacing="0.35">0</text>
<text transform="translate(420.32,296.6) scale(0.51,1)" font-size="9.2" text-anchor="middle" fill="#1a1a1a" stroke="#1a1a1a" stroke-width="0.15" letter-spacing="0.35">0.05</text>
<text transform="translate(434.24,296.6) scale(0.51,1)" font-size="9.2" text-anchor="middle" fill="#1a1a1a" stroke="#1a1a1a" stroke-width="0.15" letter-spacing="0.35">0.1</text>
<text transform="translate(448.16,296.6) scale(0.51,1)" font-size="9.2" text-anchor="middle" fill="#1a1a1a" stroke="#1a1a1a" stroke-width="0.15" letter-spacing="0.35">0.15</text>
<text transform="translate(462.08,296.6) scale(0.51,1)" font-size="9.2" text-anchor="middle" fill="#1a1a1a" stroke="#1a1a1a" stroke-width="0.15" letter-spacing="0.35">0.2</text>
<text transform="translate(476.00,296.6) scale(0.51,1)" font-size="9.2" text-anchor="middle" fill="#1a1a1a" stroke="#1a1a1a" stroke-width="0.15" letter-spacing="0.35">0.25</text>
<text transform="translate(489.92,296.6) scale(0.51,1)" font-size="9.2" text-anchor="middle" fill="#1a1a1a" stroke="#1a1a1a" stroke-width="0.15" letter-spacing="0.35">0.3</text>
<text transform="translate(503.84,296.6) scale(0.51,1)" font-size="9.2" text-anchor="middle" fill="#1a1a1a" stroke="#1a1a1a" stroke-width="0.15" letter-spacing="0.35">0.35</text>
<text transform="translate(517.76,296.6) scale(0.51,1)" font-size="9.2" text-anchor="middle" fill="#1a1a1a" stroke="#1a1a1a" stroke-width="0.15" letter-spacing="0.35">0.4</text>
<text transform="translate(531.68,296.6) scale(0.51,1)" font-size="9.2" text-anchor="middle" fill="#1a1a1a" stroke="#1a1a1a" stroke-width="0.15" letter-spacing="0.35">0.45</text>
<text transform="translate(545.60,296.6) scale(0.51,1)" font-size="9.2" text-anchor="middle" fill="#1a1a1a" stroke="#1a1a1a" stroke-width="0.15" letter-spacing="0.35">0.5</text>
<text transform="translate(559.52,296.6) scale(0.51,1)" font-size="9.2" text-anchor="middle" fill="#1a1a1a" stroke="#1a1a1a" stroke-width="0.15" letter-spacing="0.35">0.55</text>
<text transform="translate(573.44,296.6) scale(0.51,1)" font-size="9.2" text-anchor="middle" fill="#1a1a1a" stroke="#1a1a1a" stroke-width="0.15" letter-spacing="0.35">0.6</text>
<text transform="translate(587.36,296.6) scale(0.51,1)" font-size="9.2" text-anchor="middle" fill="#1a1a1a" stroke="#1a1a1a" stroke-width="0.15" letter-spacing="0.35">0.65</text>
<text transform="translate(601.28,296.6) scale(0.51,1)" font-size="9.2" text-anchor="middle" fill="#1a1a1a" stroke="#1a1a1a" stroke-width="0.15" letter-spacing="0.35">0.7</text>
<text transform="translate(615.20,296.6) scale(0.51,1)" font-size="9.2" text-anchor="middle" fill="#1a1a1a" stroke="#1a1a1a" stroke-width="0.15" letter-spacing="0.35">0.75</text>
<text transform="translate(629.12,296.6) scale(0.51,1)" font-size="9.2" text-anchor="middle" fill="#1a1a1a" stroke="#1a1a1a" stroke-width="0.15" letter-spacing="0.35">0.8</text>
<text transform="translate(643.04,296.6) scale(0.51,1)" font-size="9.2" text-anchor="middle" fill="#1a1a1a" stroke="#1a1a1a" stroke-width="0.15" letter-spacing="0.35">0.85</text>
<text transform="translate(656.96,296.6) scale(0.51,1)" font-size="9.2" text-anchor="middle" fill="#1a1a1a" stroke="#1a1a1a" stroke-width="0.15" letter-spacing="0.35">0.9</text>
<text transform="translate(670.88,296.6) scale(0.51,1)" font-size="9.2" text-anchor="middle" fill="#1a1a1a" stroke="#1a1a1a" stroke-width="0.15" letter-spacing="0.35">0.95</text>
<text transform="translate(684.80,296.6) scale(0.51,1)" font-size="9.2" text-anchor="middle" fill="#1a1a1a" stroke="#1a1a1a" stroke-width="0.15" letter-spacing="0.35">1</text>
</g>
</svg>
</body></html>
